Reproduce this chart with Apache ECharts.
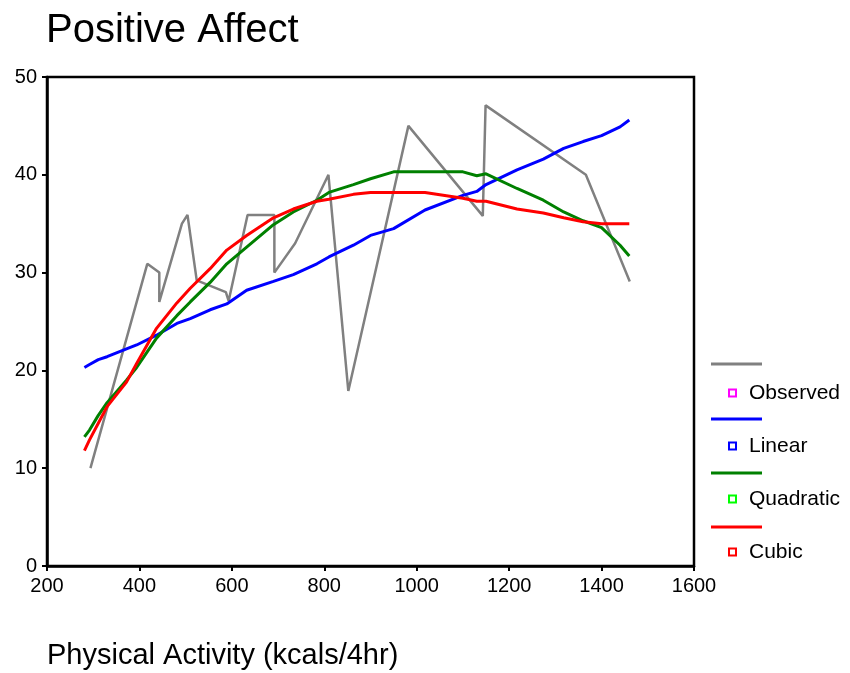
<!DOCTYPE html>
<html>
<head>
<meta charset="utf-8">
<script src="https://cdn.jsdelivr.net/npm/echarts@6/dist/echarts.min.js"></script>
<style>
  html, body { margin: 0; padding: 0; background: #fff; }
  #main { width: 850px; height: 673px; }
</style>
</head>
<body>
<div id="main"></div>
<script>
// observed data (connected in x order)
const obsX = [294, 417, 443, 443, 492, 504, 524, 587, 593, 634, 692, 692, 737, 809, 852, 982, 1143, 1149, 1366, 1461]
const obsY = [10.0, 30.9, 30.0, 27.0, 35.0, 35.9, 29.2, 28.0, 27.1, 35.9, 35.9, 30.0, 33.0, 40.0, 17.9, 45.0, 35.8, 47.1, 40.0, 29.1]

// fitted curves, read at these x positions
const fitX = [281, 292, 311, 330, 372, 394, 437, 481, 510, 553, 589, 632, 690, 733, 784, 810, 863, 900, 950, 1018, 1100, 1130, 1150, 1217, 1274, 1318, 1360, 1400, 1440, 1460]
const linearY = [20.3, 20.6, 21.1, 21.4, 22.2, 22.6, 23.6, 24.8, 25.3, 26.2, 26.8, 28.2, 29.1, 29.8, 30.9, 31.6, 32.8, 33.8, 34.5, 36.4, 37.9, 38.3, 39.0, 40.5, 41.6, 42.7, 43.4, 44.0, 44.9, 45.6]
const quadY = [13.2, 13.9, 15.4, 16.7, 19.0, 20.3, 23.3, 25.6, 27.0, 29.0, 30.9, 32.6, 34.9, 36.2, 37.4, 38.2, 39.0, 39.6, 40.3, 40.3, 40.3, 39.9, 40.1, 38.6, 37.4, 36.2, 35.3, 34.6, 32.8, 31.7]
const cubicY = [11.8, 12.9, 14.6, 16.3, 18.8, 20.7, 24.3, 26.9, 28.4, 30.4, 32.3, 33.8, 35.6, 36.5, 37.3, 37.5, 38.0, 38.2, 38.2, 38.2, 37.6, 37.3, 37.3, 36.5, 36.1, 35.6, 35.2, 35.0, 35.0, 35.0]

const xTicks = { min: 200, max: 1600, interval: 200 }
const yTicks = { min: 0, max: 50, interval: 10 }

const zip = (xs, ys) => xs.map((x, i) => [x, ys[i]])

const chart = echarts.init(document.getElementById("main"))

const lineSeries = (name, data, color, width) => ({
  name: name,
  type: "line",
  data: data,
  showSymbol: false,
  symbol: "none",
  animation: false,
  lineStyle: { color: color, width: width },
  itemStyle: { color: color },
})

const font = "Liberation Sans, Arial, sans-serif"

// legend icons are small hollow squares, lines above each are drawn separately
const legendItem = (name, color) => ({
  name: name,
  icon: "rect",
  itemStyle: { color: "#fff", borderColor: color, borderWidth: 2 },
})

const legendLines = [
  ["#808080", 364],
  ["#0000ff", 419],
  ["#008000", 473],
  ["#ff0000", 527],
]

const option = {
  backgroundColor: "#fff",
  title: {
    text: "Positive Affect",
    left: 46,
    top: 11,
    padding: 0,
    textStyle: { fontFamily: font, fontSize: 40, fontWeight: "normal", color: "#000" },
  },
  grid: {
    left: 47,
    right: 156,
    top: 77,
    bottom: 107,
    show: true,
    borderColor: "#000",
    borderWidth: 2.5,
    containLabel: false,
  },
  legend: {
    orient: "vertical",
    left: 723,
    top: 376,
    itemWidth: 7,
    itemHeight: 7,
    itemGap: 29,
    textStyle: { fontFamily: font, fontSize: 21, color: "#000", lineHeight: 24, padding: [0, 0, 0, 8] },
    data: [
      legendItem("Observed", "#ff00ff"),
      legendItem("Linear", "#0000ff"),
      legendItem("Quadratic", "#00ff00"),
      legendItem("Cubic", "#ff0000"),
    ],
    selectedMode: false,
  },
  xAxis: {
    type: "value",
    min: xTicks.min,
    max: xTicks.max,
    interval: xTicks.interval,
    name: "Physical Activity (kcals/4hr)",
    nameLocation: "start",
    nameGap: 0,
    nameTextStyle: {
      fontFamily: font,
      fontSize: 29,
      color: "#000",
      align: "left",
      verticalAlign: "top",
      padding: [75, 0, 0, 0],
    },
    axisLine: { show: true, lineStyle: { color: "#000", width: 2.5 } },
    axisTick: { show: true, length: 5, lineStyle: { color: "#000", width: 2 } },
    axisLabel: { fontFamily: font, fontSize: 20, color: "#000", margin: 10, formatter: (v) => String(v) },
    splitLine: { show: false },
  },
  yAxis: {
    type: "value",
    min: yTicks.min,
    max: yTicks.max,
    interval: yTicks.interval,
    axisLine: { show: true, lineStyle: { color: "#000", width: 2.5 } },
    axisTick: { show: true, length: 5, lineStyle: { color: "#000", width: 2 } },
    axisLabel: { fontFamily: font, fontSize: 20, color: "#000", margin: 10, formatter: (v) => String(v) },
    splitLine: { show: false },
  },
  graphic: legendLines.map(([color, y]) => ({
    type: "line",
    shape: { x1: 711, y1: y, x2: 762, y2: y },
    style: { stroke: color, lineWidth: 3 },
  })),
  series: [
    lineSeries("Observed", zip(obsX, obsY), "#808080", 2.5),
    lineSeries("Linear", zip(fitX, linearY), "#0000ff", 3),
    lineSeries("Quadratic", zip(fitX, quadY), "#008000", 3),
    lineSeries("Cubic", zip(fitX, cubicY), "#ff0000", 3),
  ],
}

option && chart.setOption(option)
</script>
</body>
</html>
